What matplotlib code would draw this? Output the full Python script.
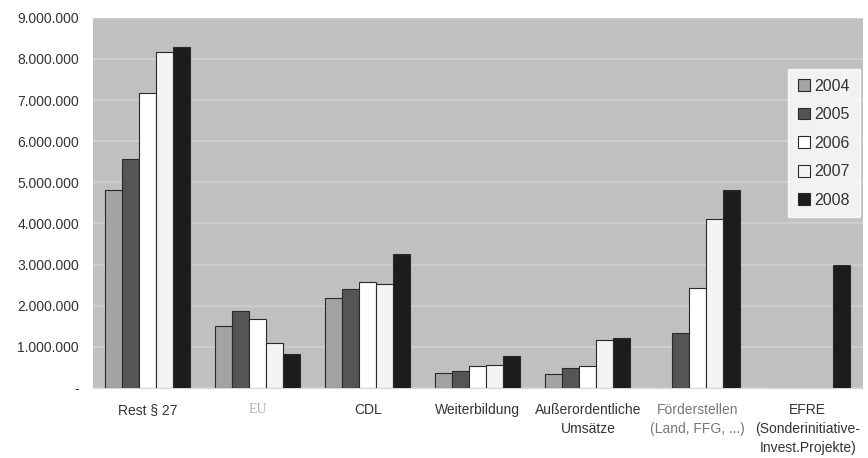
import numpy as np
import matplotlib.pyplot as plt
from matplotlib.ticker import FuncFormatter

plt.rcParams['font.family'] = ['Liberation Sans', 'DejaVu Sans']

categories = ["Rest § 27", "EU", "CDL", "Weiterbildung",
              "Außerordentliche\nUmsätze", "Förderstellen\n(Land, FFG, ...)",
              "EFRE\n(Sonderinitiative-\nInvest.Projekte)"]
years = ["2004", "2005", "2006", "2007", "2008"]

v2004 = [4820000, 1510000, 2190000, 370000, 340000, 0, 0]
v2005 = [5570000, 1880000, 2410000, 400000, 490000, 1340000, 0]
v2006 = [7180000, 1680000, 2580000, 540000, 540000, 2430000, 0]
v2007 = [8180000, 1090000, 2530000, 560000, 1170000, 4110000, 0]
v2008 = [8300000, 830000, 3260000, 780000, 1220000, 4820000, 2990000]
series = [v2004, v2005, v2006, v2007, v2008]

colors = ["#a3a3a3", "#555555", "#ffffff", "#f4f4f4", "#1c1c1c"]

fig = plt.figure(figsize=(8.68, 4.58), dpi=100)
ax = fig.add_axes([0.107, 0.153, 0.887, 0.808])
ax.set_facecolor("#c0c0c0")

x = np.arange(len(categories))
w = 0.155
for i, (vals, col, yr) in enumerate(zip(series, colors, years)):
    ax.bar(x + (i - 2) * w, vals, w, color=col, edgecolor="#2a2a2a",
           linewidth=0.8, label=yr, zorder=3)

ax.set_xlim(-0.5, len(categories) - 0.5)
ax.set_ylim(0, 9000000)
ax.set_yticks(np.arange(0, 9000001, 1000000))
ax.yaxis.set_major_formatter(FuncFormatter(
    lambda v, p: "-" if v == 0 else f"{int(v):,}".replace(",", ".")))
ax.grid(axis="y", color="#cdcdcd", linewidth=1.6, zorder=1)
ax.tick_params(axis="y", length=0, pad=10, labelsize=10, labelcolor="#333333")
ax.tick_params(axis="x", length=0, pad=11)

ax.set_xticks(x)
ax.set_xticklabels(categories, fontsize=10, color="#333333", linespacing=1.45)
labels = ax.get_xticklabels()
labels[1].set_color("#b0b0b0")
labels[1].set_family("Liberation Serif")
labels[5].set_color("#777777")

for s in ["top", "right", "left"]:
    ax.spines[s].set_visible(False)
ax.spines["bottom"].set_color("#d8d8d8")

leg = ax.legend(loc="upper right", bbox_to_anchor=(0.996, 0.862), frameon=True,
                fancybox=False, fontsize=11.5, handlelength=0.75, handleheight=0.75,
                handletextpad=0.3, labelspacing=0.85, borderpad=0.6,
                borderaxespad=0)
leg.get_frame().set_facecolor("white")
leg.get_frame().set_edgecolor("white")
for t in leg.get_texts():
    t.set_color("#333333")

fig.savefig("out.png", dpi=100)
